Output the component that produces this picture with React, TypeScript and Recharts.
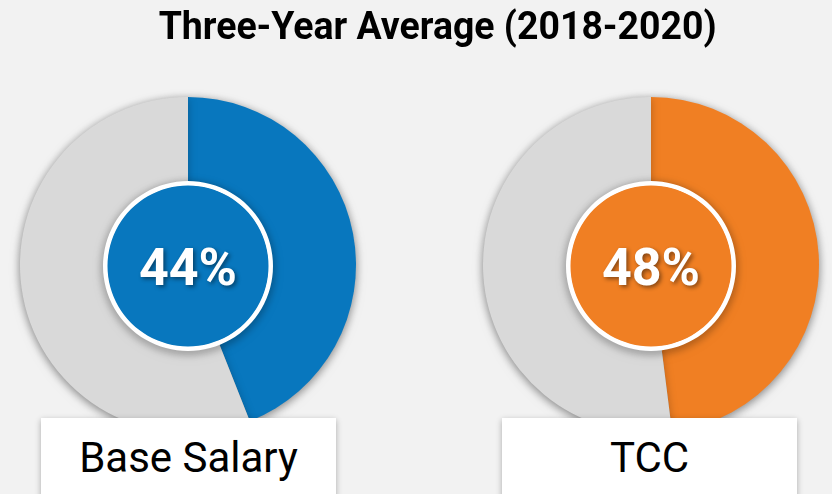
import { PieChart, Pie, Cell } from 'recharts';

const categories = ['Base Salary', 'TCC'];
const shareValues = [44, 48];
const shareColors = ['#0877be', '#f07f23'];
const restColor = '#d9d9d9';
const chartTitle = 'Three-Year Average (2018-2020)';

const W = 832;
const H = 494;
const centers = [188, 651];
const CY = 265;

export default function App() {
  const pies = categories.map((name, i) => ({
    name,
    color: shareColors[i],
    cx: centers[i],
    pct: `${shareValues[i]}%`,
    data: [
      { name, value: shareValues[i] },
      { name: 'rest', value: 100 - shareValues[i] },
    ],
    inner: [{ name, value: 1 }],
  }));

  return (
    <div
      style={{
        position: 'absolute',
        left: 0,
        top: 0,
        width: W,
        height: H,
        background: '#f2f2f2',
        overflow: 'hidden',
        fontFamily: 'Roboto, sans-serif',
      }}
    >
      <style>{`.pie-shadow { filter: drop-shadow(0px 2px 4px rgba(0,0,0,0.25)); }`}</style>
      <div
        style={{
          position: 'absolute',
          left: 0,
          top: 4,
          width: W,
          textAlign: 'center',
          fontWeight: 700,
          fontSize: 39,
          lineHeight: '44px',
          color: '#000',
          whiteSpace: 'nowrap',
        }}
      >
        <span style={{ display: 'inline-block', transform: 'scaleX(0.96)', marginLeft: 44 }}>
          {chartTitle}
        </span>
      </div>
      <PieChart
        width={W}
        height={H}
        margin={{ top: 0, right: 0, bottom: 0, left: 0 }}
        style={{ position: 'absolute', left: 0, top: 0 }}
      >
        {pies.map((p) => (
          <Pie
            key={p.name}
            data={p.data}
            dataKey="value"
            cx={p.cx}
            cy={CY}
            outerRadius={168}
            startAngle={90}
            endAngle={-270}
            stroke="none"
            className="pie-shadow"
            isAnimationActive={false}
          >
            <Cell fill={p.color} />
            <Cell fill={restColor} />
          </Pie>
        ))}
        {pies.map((p) => (
          <Pie
            key={p.name + '-ring'}
            data={p.inner}
            dataKey="value"
            cx={p.cx}
            cy={CY + 1}
            innerRadius={80}
            outerRadius={85}
            startAngle={90}
            endAngle={-270}
            fill="#fff"
            stroke="none"
            className="pie-shadow"
            isAnimationActive={false}
          />
        ))}
        {pies.map((p) => (
          <Pie
            key={p.name + '-inner'}
            data={p.inner}
            dataKey="value"
            cx={p.cx}
            cy={CY + 1}
            outerRadius={80.5}
            startAngle={90}
            endAngle={-270}
            fill={p.color}
            stroke="none"
            isAnimationActive={false}
            labelLine={false}
            label={(props: any) => (
              <text
                x={props.cx}
                y={props.cy + 19}
                textAnchor="middle"
                fill="#fff"
                fontFamily="Roboto, sans-serif"
                fontWeight={700}
                fontSize={52}
                style={{ filter: 'drop-shadow(2px 2px 2px rgba(0,0,0,0.45))' }}
              >
                {p.pct}
              </text>
            )}
          />
        ))}
      </PieChart>
      {pies.map((p, i) => (
        <div
          key={p.name + '-box'}
          style={{
            position: 'absolute',
            left: i === 0 ? 41 : 502,
            top: 418,
            width: 295,
            height: 80,
            background: '#fff',
            boxShadow: '0px 2px 6px rgba(0,0,0,0.3)',
            textAlign: 'center',
            fontSize: 42,
            lineHeight: '80px',
            color: '#000',
          }}
        >
          {p.name}
        </div>
      ))}
    </div>
  );
}
